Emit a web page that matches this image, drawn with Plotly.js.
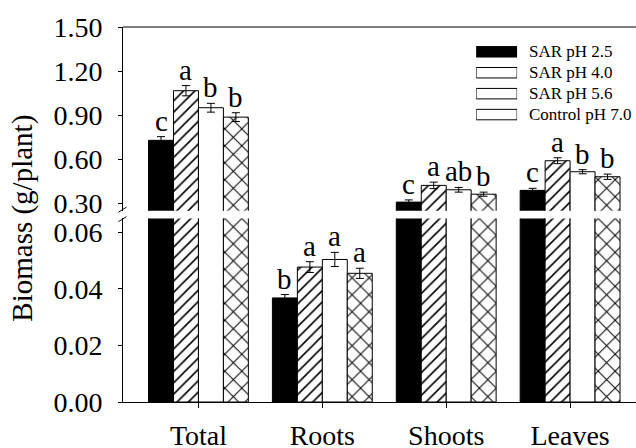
<!DOCTYPE html>
<html><head><meta charset="utf-8">
<script src="https://cdn.plot.ly/plotly-3.0.1.min.js"></script>
<style>html,body{margin:0;padding:0;background:#fff}#c{width:636px;height:448px}</style>
</head><body><div id="c"></div>
<script>
const categories = ['Total','Roots','Shoots','Leaves'];
const seriesNames = ['SAR pH 2.5','SAR pH 4.0','SAR pH 5.6','Control pH 7.0'];
const ph25 = [0.730, 0.0368, 0.309, 0.389];
const ph40 = [1.068, 0.0477, 0.423, 0.591];
const ph56 = [0.952, 0.0504, 0.393, 0.516];
const ph70 = [0.888, 0.0455, 0.363, 0.482];
const err25 = [0.025, 0.0012, 0.015, 0.014];
const err40 = [0.035, 0.0019, 0.022, 0.020];
const err56 = [0.030, 0.0025, 0.016, 0.014];
const err70 = [0.030, 0.0018, 0.014, 0.018];
const let25 = ['c','b','c','c'];
const let40 = ['a','a','a','a'];
const let56 = ['b','a','ab','b'];
const let70 = ['b','a','b','b'];
const upperTicks = [0.30, 0.60, 0.90, 1.20, 1.50];
const lowerTicks = [0.00, 0.02, 0.04, 0.06];

const values = [ph25, ph40, ph56, ph70];
const errs = [err25, err40, err56, err70];
const letters = [let25, let40, let56, let70];
const styles = [
  {color:'black', pattern:{shape:''}},
  {color:'white', pattern:{shape:'/', fgcolor:'black', bgcolor:'white', size:8, solidity:0.2}},
  {color:'white', pattern:{shape:''}},
  {color:'white', pattern:{shape:'x', fgcolor:'black', bgcolor:'white', size:12, solidity:0.16}}
];
const FONT = 'Liberation Serif';
const bargap = 0.194;
const traces = [];
['y','y2'].forEach(ya => {
  values.forEach((v, j) => {
    traces.push({
      type:'bar', x:categories, y:v, name:seriesNames[j], xaxis:'x', yaxis:ya,
      marker:{color:styles[j].color, pattern:styles[j].pattern, line:{color:'black', width:1}},
      error_y:{type:'data', array:errs[j], visible:true, color:'black', thickness:1, width:4},
      showlegend:false, hoverinfo:'skip'
    });
  });
});
// legend swatches as a tiny bar subplot
traces.push({
  type:'bar', orientation:'h', x:seriesNames.map(()=>1), y:seriesNames, xaxis:'x3', yaxis:'y3',
  width:0.5,
  marker:{color:styles.map(s=>s.color), line:{color:'black', width:1},
    pattern:{shape:styles.map(s=>s.pattern.shape), fgcolor:'black', bgcolor:styles.map(s=>s.color),
      size:styles.map(s=>s.pattern.size||8), solidity:styles.map(s=>s.pattern.solidity||0.1)}},
  showlegend:false, hoverinfo:'skip'
});

const annotations = [];
const w = (1 - bargap) / 4;
values.forEach((v, j) => {
  v.forEach((val, i) => {
    const upper = val > 0.2;
    annotations.push({
      x: i + (j - 1.5) * w, xref:'x', y: val + errs[j][i], yref: upper ? 'y2' : 'y',
      text: letters[j][i], showarrow:false, yanchor:'bottom', xanchor:'center',
      font:{family:FONT, size:29, color:'black'}, yshift:-2
    });
  });
});
seriesNames.forEach(n => {
  annotations.push({x:0.7877, xref:'paper', y:n, yref:'y3', text:n, showarrow:false,
    xanchor:'left', yanchor:'middle', font:{family:FONT, size:17, color:'black'}});
});
annotations.push({x:-0.196, xref:'paper', y:0.49, yref:'paper', text:'Biomass (g/plant)', textangle:-90,
  showarrow:false, xanchor:'center', yanchor:'middle', font:{family:FONT, size:29, color:'black'}});

const px2x = px => (px - 122.5) / 513.5;
const py2y = py => (401.7 - py) / 374.7;

const layout = {
  width:636, height:448, margin:{l:122.5, r:0, t:27, b:46.3},
  paper_bgcolor:'white', plot_bgcolor:'white', barmode:'group', bargap:bargap, bargroupgap:0,
  showlegend:false,
  xaxis:{type:'category', range:[-0.609, 3.532], showline:true, linecolor:'black', linewidth:1,
    ticks:'outside', ticklen:5, tickcolor:'black', showgrid:false, zeroline:false,
    tickfont:{family:FONT, size:28, color:'black'}, ticklabelstandoff:3, anchor:'y'},
  yaxis:{domain:[0, py2y(218.3)], range:[0, 0.0649], tickvals:lowerTicks, tickformat:'.2f',
    showline:true, linecolor:'black', linewidth:1, ticks:'outside', ticklen:4, tickcolor:'black',
    showgrid:false, zeroline:false, tickfont:{family:FONT, size:28, color:'black'}, ticklabelstandoff:10, anchor:'x'},
  yaxis2:{domain:[py2y(210.7), 1], range:[0.2495, 1.502], tickvals:upperTicks, tickformat:'.2f',
    showline:true, linecolor:'black', linewidth:1, ticks:'outside', ticklen:4, tickcolor:'black',
    showgrid:false, zeroline:false, tickfont:{family:FONT, size:28, color:'black'}, ticklabelstandoff:10, anchor:'x'},
  xaxis3:{domain:[px2x(476), px2x(517)], range:[0,1], visible:false, anchor:'y3', fixedrange:true},
  yaxis3:{domain:[py2y(126), py2y(40.3)], autorange:'reversed', visible:false, anchor:'x3', type:'category'},
  annotations:annotations,
  shapes:[
    {type:'line', xref:'paper', yref:'paper', x0:0, x1:1, y0:1, y1:1, line:{color:'black', width:1}},
    {type:'line', xref:'paper', yref:'paper', x0:px2x(118), x1:px2x(126), y0:py2y(212), y1:py2y(207), line:{color:'black', width:1}},
    {type:'line', xref:'paper', yref:'paper', x0:px2x(118), x1:px2x(126), y0:py2y(221.5), y1:py2y(216.5), line:{color:'black', width:1}}
  ]
};
Plotly.newPlot('c', traces, layout, {displayModeBar:false, staticPlot:true});
</script></body></html>
